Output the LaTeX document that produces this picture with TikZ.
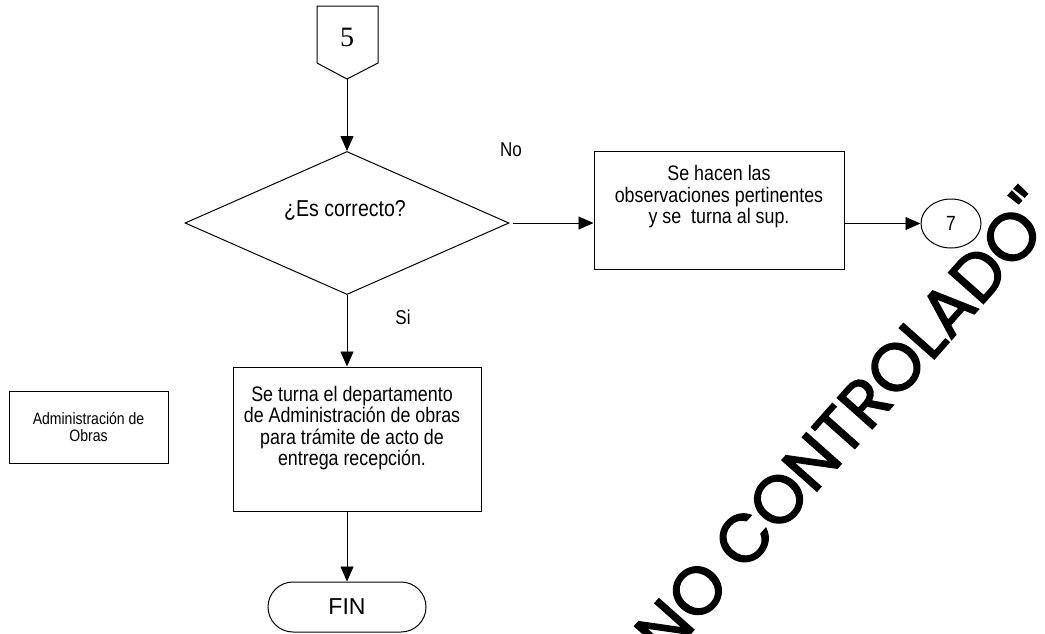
\documentclass[tikz,border=0pt]{standalone}
\usepackage{fontspec}
\setmainfont{Liberation Sans}
\newfontfamily\narrowfont[FakeStretch=0.85]{Liberation Sans}
\newfontfamily\serfont{Liberation Serif}
\newfontfamily\wmfont[FakeBold=2]{Poppins}
\usetikzlibrary{arrows.meta,shapes.geometric}
\begin{document}
\begin{tikzpicture}[x=1pt,y=-1pt,
  shp/.style={draw,line width=1pt,inner sep=0pt},
  arr/.style={line width=0.8pt,-{Triangle[length=15pt,width=13pt]}},
  boxtxt/.style={font=\narrowfont\fontsize{21}{21.5}\selectfont,align=center,inner sep=0pt},
  lbl/.style={font=\narrowfont\fontsize{20}{20}\selectfont,inner sep=0pt}]
\useasboundingbox (0,0) rectangle (1045,633);
\clip (0,0) rectangle (1045,633);

% watermark
\node[font=\wmfont\fontsize{67}{67}\selectfont,rotate=48.4,inner sep=0pt] (wm) at (843,422) {NO CONTROLADO"};

% off-page connector 5
\node[font=\serfont\fontsize{28}{28}\selectfont,inner sep=0pt] (c5) at (347,37.5) {5};
\coordinate (c5tip) at (347,79);
\draw[line width=1pt] (317,6) -- (378,6) -- (378,63) -- (c5tip) -- (317,63) -- cycle;

% decision
\node[shp,diamond,minimum width=324pt,minimum height=143pt] (d) at (347,223) {};
\node[font=\narrowfont\fontsize{23}{23}\selectfont,inner sep=0pt] (q) at (345,210) {¿Es correcto?};
\draw[arr] (c5tip) -- (d.north);

\node[lbl] (no) at (511,150) {No};
\node[lbl] (si) at (403,317) {Si};

% right branch
\node[shp,minimum width=250pt,minimum height=118pt] (b3) at (719,210) {};
\node[boxtxt] (t3) at (719,197) {Se hacen las\\observaciones pertinentes\\y se~ turna al sup.};
\draw[arr,shorten <=3pt] (d.east) -- (d.east -| b3.west);

\node[shp,ellipse,minimum width=60pt,minimum height=49pt,font=\narrowfont\fontsize{20.5}{20.5}\selectfont] (c7) at (951,223.5) {7};
\draw[arr] (c7.west -| b3.east) -- (c7.west);

% down branch
\node[shp,minimum width=248pt,minimum height=144pt] (b2) at (357,439) {};
\node[boxtxt] (t2) at (352,428) {Se turna el departamento\\de Administración de obras\\para trámite de acto de\\entrega recepción.};
\draw[arr] (d.south) -- (d.south |- b2.north);

\node[shp,rounded corners=25pt,minimum width=158pt,minimum height=50pt,font=\fontsize{23}{23}\selectfont] (fin) at (347,607) {FIN};
\draw[arr] (fin.north |- b2.south) -- (fin.north);

% side label box
\node[shp,minimum width=159pt,minimum height=72pt,align=center,font=\narrowfont\fontsize{16.5}{16.5}\selectfont] (adm) at (88.5,427) {Administración de\\Obras};
\end{tikzpicture}
\end{document}
